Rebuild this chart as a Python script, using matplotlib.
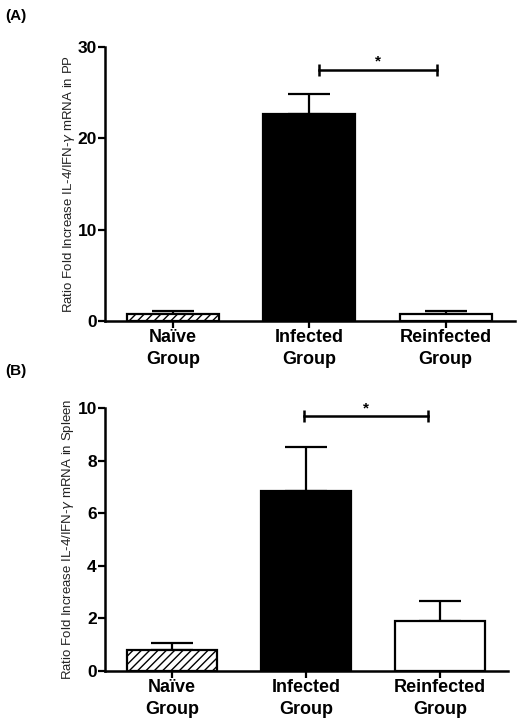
import numpy as np
import matplotlib.pyplot as plt

plt.rcParams['font.family'] = ['Liberation Sans', 'DejaVu Sans']

groups = ['Naïve\nGroup', 'Infected\nGroup', 'Reinfected\nGroup']
pp_mean = [0.7, 22.7, 0.8]
pp_err = [0.35, 2.1, 0.25]
spleen_mean = [0.78, 6.85, 1.88]
spleen_err = [0.26, 1.66, 0.77]
pp_sig = (1.07, 1.94, 27.5)
spleen_sig = (0.98, 1.91, 9.68)

fills = ['white', 'black', 'white']
hatches = ['////', None, None]


def panel(ax, means, errs, ymax, ystep, ylabel, sig, xright, width, labx):
    x = np.arange(len(means))
    for i in range(len(means)):
        ax.bar(x[i], means[i], width=width, color=fills[i], edgecolor='black',
               linewidth=1.6, hatch=hatches[i], zorder=2)
        ax.errorbar(x[i], means[i], yerr=[[0], [errs[i]]], fmt='none',
                    ecolor='black', elinewidth=1.6, capsize=15, capthick=1.6,
                    zorder=1)
    x0, x1, ys = sig
    ax.plot([x0, x1], [ys, ys], color='black', lw=1.8, zorder=3)
    ax.plot([x0, x1], [ys, ys], ls='none', marker='|', ms=9, mew=1.8,
            color='black')
    ax.text((x0 + x1) / 2, ys + ymax * 0.005, '*', ha='center', va='bottom',
            fontsize=11, fontweight='bold')
    ax.set_xlim(-0.5, xright)
    ax.set_ylim(0, ymax)
    ax.set_yticks(np.arange(0, ymax + 0.1, ystep))
    ax.set_xticks(x)
    ax.set_xticklabels(groups, fontsize=13, fontweight='bold', linespacing=1.4)
    for lab in ax.get_yticklabels():
        lab.set_fontweight('bold')
        lab.set_fontsize(12.5)
    ax.tick_params(axis='both', direction='out', width=1.6, length=5, pad=1)
    ax.spines['top'].set_visible(False)
    ax.spines['right'].set_visible(False)
    ax.spines['left'].set_linewidth(1.8)
    ax.spines['bottom'].set_linewidth(1.8)
    ax.set_ylabel(ylabel, fontsize=9.5, color='#222222')
    ax.yaxis.set_label_coords(labx, 0.5)


fig = plt.figure(figsize=(5.31, 7.21), dpi=100)
ax1 = fig.add_axes([0.198, 0.555, 0.772, 0.380])
ax2 = fig.add_axes([0.198, 0.070, 0.759, 0.364])

panel(ax1, pp_mean, pp_err, 30, 10,
      r'Ratio Fold Increase IL-4/IFN-$\gamma$ mRNA in PP', pp_sig, 2.51, 0.675,
      -0.068)
panel(ax2, spleen_mean, spleen_err, 10, 2,
      r'Ratio Fold Increase IL-4/IFN-$\gamma$ mRNA in Spleen', spleen_sig, 2.507,
      0.67, -0.072)

fig.text(0.01, 0.978, '(A)', fontsize=11, fontweight='bold', va='center')
fig.text(0.01, 0.485, '(B)', fontsize=11, fontweight='bold', va='center')

fig.savefig('out.png', dpi=100)
